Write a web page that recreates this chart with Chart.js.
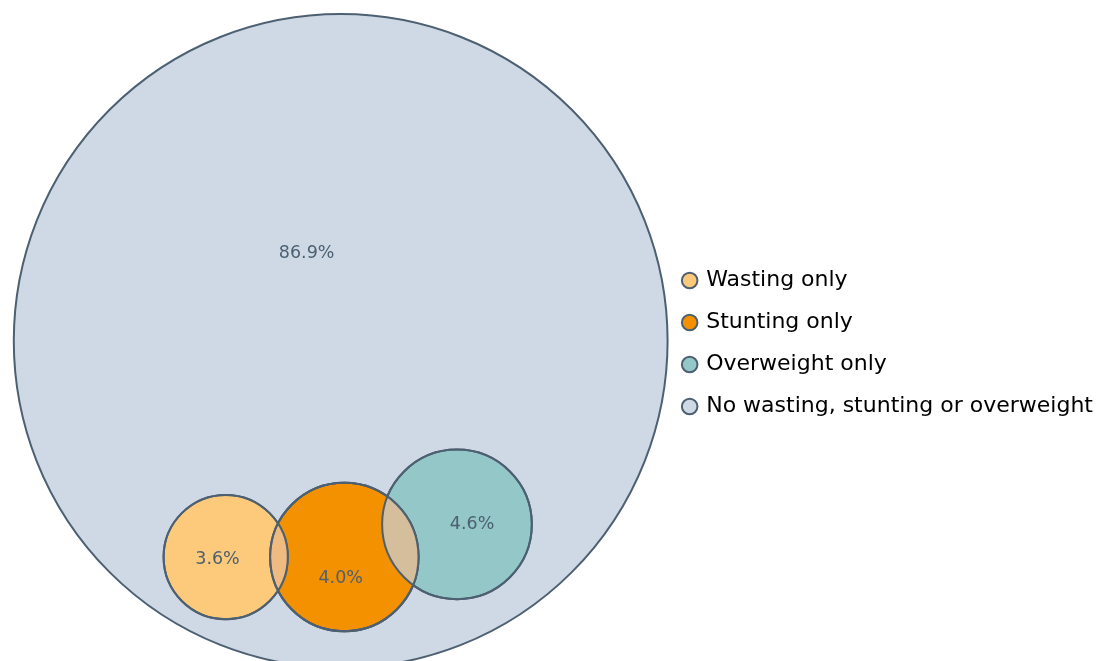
<!DOCTYPE html>
<html>
<head>
<meta charset="utf-8">
<script src="https://cdn.jsdelivr.net/npm/chart.js@4"></script>
<style>
  html, body { margin: 0; padding: 0; background: #fff; }
  #wrap { width: 1097px; height: 661px; }
</style>
</head>
<body>
<div id="wrap"><canvas id="venn"></canvas></div>
<script>
// Venn circles, units = radius of the big circle (y up)
const groups  = ['Wasting only', 'Stunting only', 'Overweight only', 'No wasting, stunting or overweight'];
const shares  = ['3.6%', '4.0%', '4.6%', '86.9%'];
const circleX = [-0.351, 0.011, 0.355, 0.0];
const circleY = [-0.661, -0.661, -0.561, 0.0];
const circleR = [0.190, 0.227, 0.229, 1.0];
const labelX  = [-0.376, 0.0, 0.401, -0.104];
const labelY  = [-0.667, -0.725, -0.560, 0.269];

const FILLS  = ['#fdc97b', '#f39100', '#93c7c8', '#cfd9e5'];
const LENS   = { '0-1': '#efbb80', '1-2': '#d4be9c' };   // overlap tints
const EDGE   = '#4d6072';
const FONT   = 'DejaVu Sans';

// radius in px from data units via the y scale
function pxRadius(chart, r){
  const y = chart.scales.y;
  return Math.abs(y.getPixelForValue(0) - y.getPixelForValue(r));
}

const datasets = groups.map((g, i) => ({
  label: g,
  data: [{ x: circleX[i], y: circleY[i] }],
  backgroundColor: FILLS[i],
  borderColor: EDGE,
  pointBorderWidth: 2,
  pointHoverBorderWidth: 2,
  pointRadius: ctx => pxRadius(ctx.chart, circleR[i]),
  pointHoverRadius: ctx => pxRadius(ctx.chart, circleR[i]),
  order: i === 3 ? 10 : i,
  clip: false
}));

// overlap lenses + percentage labels
const vennExtras = {
  id: 'vennExtras',
  afterDatasetsDraw(chart){
    const c = chart.ctx;
    const circ = i => { const e = chart.getDatasetMeta(i).data[0]; return { x: e.x, y: e.y, r: pxRadius(chart, circleR[i]) }; };
    Object.keys(LENS).forEach(k => {
      const [a, b] = k.split('-').map(Number);
      const A = circ(a), B = circ(b);
      c.save();
      c.beginPath(); c.arc(A.x, A.y, A.r, 0, Math.PI*2); c.clip();
      c.beginPath(); c.arc(B.x, B.y, B.r, 0, Math.PI*2);
      c.fillStyle = LENS[k]; c.fill();
      c.restore();
      c.save();
      c.strokeStyle = EDGE; c.lineWidth = 2;
      [A, B].forEach(C => { c.beginPath(); c.arc(C.x, C.y, C.r, 0, Math.PI*2); c.stroke(); });
      c.restore();
    });
    c.save();
    c.font = '17.5px ' + FONT;
    c.fillStyle = EDGE;
    c.textAlign = 'center';
    c.textBaseline = 'middle';
    shares.forEach((s, i) => {
      c.fillText(s, chart.scales.x.getPixelForValue(labelX[i]), chart.scales.y.getPixelForValue(labelY[i]));
    });
    c.restore();
  }
};

new Chart(document.getElementById('venn'), {
  type: 'scatter',
  data: { datasets },
  options: {
    responsive: true,
    maintainAspectRatio: false,
    animation: false,
    events: [],
    layout: { padding: { top: 26, right: -6, left: 0, bottom: 0 } },
    scales: {
      x: { display: false, min: -1.040, max: 0.9875 },
      y: { display: false, min: -0.979, max: 0.9635 }
    },
    plugins: {
      tooltip: { enabled: false },
      legend: {
        position: 'right',
        align: 'center',
        labels: {
          font: { family: FONT, size: 22 },
          color: '#111',
          usePointStyle: true,
          pointStyle: 'circle',
          boxWidth: 11,
          boxHeight: 11,
          padding: 20,
          generateLabels: chart => groups.map((g, i) => ({
            text: g,
            fillStyle: FILLS[i],
            strokeStyle: EDGE,
            lineWidth: 2,
            pointStyle: 'circle',
            datasetIndex: i,
            hidden: false
          }))
        }
      }
    }
  },
  plugins: [vennExtras]
});
</script>
</body>
</html>
